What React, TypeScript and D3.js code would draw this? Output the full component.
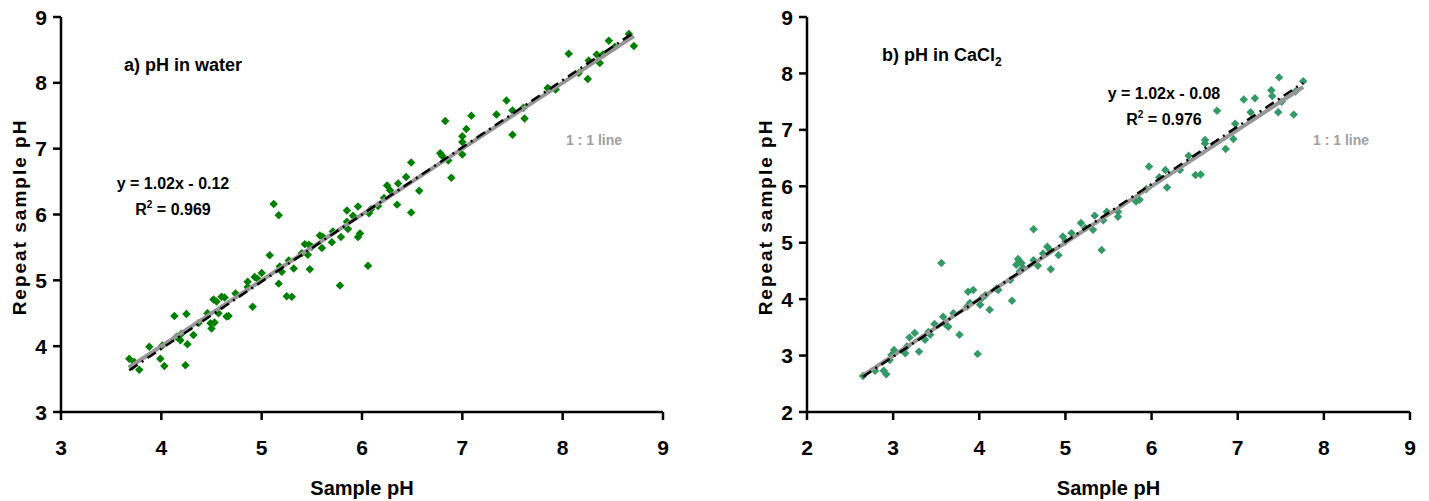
import React from "react";
import * as d3 from "d3";

// ---- Data: panel a) pH in water ----
const waterSample = [
  3.68, 3.73, 3.78, 3.71, 3.88, 4.01, 3.99, 4.03, 4.13, 4.25, 4.24, 4.26, 4.15, 4.19, 4.20, 4.32,
  4.37, 4.46, 4.49, 4.50, 4.53, 4.52, 4.55, 4.60, 4.63, 4.65, 4.57, 4.67, 4.74, 4.86, 4.86, 4.91,
  4.93, 4.96, 5.00, 5.08, 5.12, 5.17, 5.18, 5.20, 5.17, 5.25, 5.30, 5.27, 5.32, 5.40, 5.43, 5.47,
  5.46, 5.48, 5.50, 5.58, 5.61, 5.60, 5.70, 5.71, 5.78, 5.79, 5.85, 5.85, 5.86, 5.91, 5.96, 5.96,
  5.98, 6.06, 6.07, 6.09, 6.16, 6.22, 6.35, 6.25, 6.28, 6.36, 6.44, 6.49, 6.57, 6.49, 6.78, 6.80,
  6.83, 6.86, 6.89, 7.00, 7.00, 7.00, 7.04, 7.09, 7.34, 7.44, 7.50, 7.50, 7.61, 7.62, 7.85, 7.87,
  7.93, 8.06, 8.16, 8.25, 8.26, 8.34, 8.37, 8.40, 8.46, 8.52, 8.66, 8.71,
];
const waterRepeat = [
  3.81, 3.76, 3.64, 3.69, 3.99, 4.01, 3.81, 3.70, 4.46, 4.49, 3.71, 4.03, 4.14, 4.09, 4.19, 4.17,
  4.35, 4.50, 4.35, 4.27, 4.36, 4.71, 4.68, 4.75, 4.74, 4.45, 4.50, 4.46, 4.80, 4.98, 4.90, 4.60,
  5.05, 5.02, 5.11, 5.38, 6.16, 5.99, 5.21, 5.13, 4.95, 4.76, 4.75, 5.30, 5.18, 5.41, 5.55, 5.54,
  5.39, 5.17, 5.51, 5.68, 5.66, 5.49, 5.58, 5.74, 4.92, 5.66, 5.89, 6.06, 5.78, 5.98, 6.12, 5.66,
  5.71, 5.22, 6.02, 6.08, 6.13, 6.25, 6.15, 6.44, 6.37, 6.47, 6.57, 6.79, 6.36, 6.03, 6.93, 6.89,
  7.42, 6.82, 6.56, 7.19, 7.10, 6.91, 7.30, 7.50, 7.52, 7.73, 7.58, 7.21, 7.62, 7.46, 7.92, 7.90,
  7.90, 8.44, 8.15, 8.06, 8.34, 8.43, 8.30, 8.43, 8.64, 8.55, 8.74, 8.56,
];

// ---- Data: panel b) pH in CaCl2 ----
const cacl2Sample = [
  2.65, 2.79, 2.89, 2.92, 2.96, 2.98, 3.01, 3.14, 3.16, 3.19, 3.25, 3.30, 3.37, 3.41, 3.43, 3.48,
  3.56, 3.58, 3.60, 3.64, 3.70, 3.77, 3.86, 3.87, 3.89, 3.93, 3.98, 4.01, 4.03, 4.07, 4.12, 4.20,
  4.22, 4.36, 4.38, 4.43, 4.45, 4.49, 4.51, 4.47, 4.63, 4.63, 4.68, 4.74, 4.79, 4.82, 4.83, 4.92,
  4.97, 5.00, 5.07, 5.18, 5.23, 5.32, 5.34, 5.42, 5.44, 5.48, 5.61, 5.61, 5.82, 5.86, 5.94, 5.97,
  6.09, 6.16, 6.18, 6.33, 6.43, 6.51, 6.57, 6.62, 6.62, 6.76, 6.86, 6.95, 6.97, 7.07, 7.15, 7.20,
  7.39, 7.40, 7.47, 7.48, 7.51, 7.65, 7.67, 7.76,
];
const cacl2Repeat = [
  2.64, 2.73, 2.73, 2.67, 2.92, 3.01, 3.10, 3.04, 3.16, 3.32, 3.40, 3.07, 3.28, 3.42, 3.37, 3.56,
  4.64, 3.69, 3.57, 3.51, 3.75, 3.37, 3.87, 4.13, 3.93, 4.16, 3.03, 3.90, 4.02, 4.07, 3.81, 4.19,
  4.16, 4.34, 3.97, 4.61, 4.71, 4.64, 4.55, 4.49, 4.69, 5.24, 4.59, 4.81, 4.93, 4.87, 4.53, 4.78,
  5.11, 5.02, 5.17, 5.35, 5.26, 5.23, 5.48, 4.87, 5.40, 5.55, 5.55, 5.46, 5.73, 5.76, 5.95, 6.35,
  6.16, 6.29, 5.98, 6.29, 6.54, 6.20, 6.21, 6.82, 6.76, 7.34, 6.66, 6.84, 7.11, 7.54, 7.31, 7.56,
  7.70, 7.60, 7.31, 7.93, 7.50, 7.27, 7.68, 7.86,
];

// ---- Axis ticks and labels ----
const waterTicks = [3, 4, 5, 6, 7, 8, 9];
const cacl2Ticks = [2, 3, 4, 5, 6, 7, 8, 9];
const waterFit = { slope: 1.02, intercept: -0.12, eq: "y = 1.02x - 0.12", r2: "0.969" };
const cacl2Fit = { slope: 1.02, intercept: -0.08, eq: "y = 1.02x - 0.08", r2: "0.976" };
const xTitle = "Sample pH";
const yTitle = "Repeat sample pH";
const oneToOneLabel = "1 : 1 line";

const NARROW = "'Liberation Sans Narrow', 'Arial Narrow', 'Liberation Sans', Arial, sans-serif";
const WIDE = "'Liberation Sans', Arial, sans-serif";

type PanelProps = {
  xs: number[];
  ys: number[];
  ticks: number[];
  fit: { slope: number; intercept: number; eq: string; r2: string };
  xRange: [number, number];
  color: string;
  title: React.ReactNode;
  titlePos: [number, number];
  eqPos: [number, number];
  linePos: [number, number];
  yTitleX: number;
};

function Panel(p: PanelProps) {
  const dom: [number, number] = [p.ticks[0], p.ticks[p.ticks.length - 1]];
  const x = d3.scaleLinear().domain(dom).range(p.xRange);
  const y = d3.scaleLinear().domain(dom).range([412, 17]);
  const xMin = d3.min(p.xs) as number;
  const xMax = d3.max(p.xs) as number;
  const line = d3.line<[number, number]>().x((d) => x(d[0])).y((d) => y(d[1]));
  const oneToOne = line([[xMin, xMin], [xMax, xMax]]) || "";
  const reg = line([
    [xMin, p.fit.slope * xMin + p.fit.intercept],
    [xMax, p.fit.slope * xMax + p.fit.intercept],
  ]) || "";
  const diamond = d3.symbol().type(d3.symbolSquare).size(36)() || "";
  const x0 = p.xRange[0];
  const plotMidX = (p.xRange[0] + p.xRange[1]) / 2;
  return (
    <g>
      {/* axes */}
      <line x1={x0} x2={x0} y1={y(dom[1])} y2={412} stroke="#000" strokeWidth={2.5} />
      <line x1={x0} x2={p.xRange[1]} y1={412} y2={412} stroke="#000" strokeWidth={2.5} />
      {p.ticks.map((t) => (
        <g key={"y" + t}>
          <line x1={x0 - 8} x2={x0} y1={y(t)} y2={y(t)} stroke="#000" strokeWidth={2.5} />
          <text x={x0 - 14} y={y(t) + 7.5} textAnchor="end" fontFamily={NARROW} fontWeight="bold" fontSize={21}>
            {t}
          </text>
        </g>
      ))}
      {p.ticks.map((t) => (
        <g key={"x" + t}>
          <line x1={x(t)} x2={x(t)} y1={412} y2={420} stroke="#000" strokeWidth={2.5} />
          <text x={x(t)} y={455} textAnchor="middle" fontFamily={NARROW} fontWeight="bold" fontSize={21}>
            {t}
          </text>
        </g>
      ))}
      {/* points */}
      {p.xs.map((v, i) => (
        <path
          key={i}
          d={diamond}
          transform={`translate(${x(v)},${y(p.ys[i])}) rotate(45)`}
          fill={p.color}
        />
      ))}
      {/* 1:1 line and regression */}
      <path d={oneToOne} stroke="#969696" strokeWidth={4} fill="none" />
      <path d={reg} stroke="#000" strokeWidth={2.5} strokeDasharray="10,5,2,5" fill="none" />
      {/* annotations */}
      <text x={p.titlePos[0]} y={p.titlePos[1]} fontFamily={NARROW} fontWeight="bold" fontSize={18}>
        {p.title}
      </text>
      <text x={p.eqPos[0]} y={p.eqPos[1]} textAnchor="middle" fontFamily={NARROW} fontWeight="bold" fontSize={16}>
        {p.fit.eq}
      </text>
      <text x={p.eqPos[0]} y={p.eqPos[1] + 26} textAnchor="middle" fontFamily={NARROW} fontWeight="bold" fontSize={16}>
        R<tspan dy={-7} fontSize={10}>2</tspan>
        <tspan dy={7}>{" = " + p.fit.r2}</tspan>
      </text>
      <text x={p.linePos[0]} y={p.linePos[1]} fontFamily={NARROW} fontWeight="bold" fontSize={14} fill="#a0a0a0">
        {oneToOneLabel}
      </text>
      {/* axis titles */}
      <text x={plotMidX} y={495} textAnchor="middle" fontFamily={NARROW} fontWeight="bold" fontSize={20}>
        {xTitle}
      </text>
      <text
        transform={`translate(${p.yTitleX},217) rotate(-90)`}
        textAnchor="middle"
        fontFamily={WIDE}
        fontWeight="bold"
        fontSize={19}
        letterSpacing={2}
      >
        {yTitle}
      </text>
    </g>
  );
}

export default function App() {
  return (
    <div style={{ position: "absolute", left: 0, top: 0, background: "#fff" }}>
      <svg width={1429} height={501} style={{ display: "block" }}>
        <rect width={1429} height={501} fill="#fff" />
        <Panel
          xs={waterSample}
          ys={waterRepeat}
          ticks={waterTicks}
          fit={waterFit}
          xRange={[61, 663]}
          color="#008000"
          title="a) pH in water"
          titlePos={[124, 71]}
          eqPos={[173, 189]}
          linePos={[566, 145]}
          yTitleX={26}
        />
        <Panel
          xs={cacl2Sample}
          ys={cacl2Repeat}
          ticks={cacl2Ticks}
          fit={cacl2Fit}
          xRange={[807, 1410]}
          color="#339966"
          title={
            <>
              b) pH in CaCl<tspan dy={5} fontSize={12}>2</tspan>
            </>
          }
          titlePos={[882, 61]}
          eqPos={[1164, 99]}
          linePos={[1313, 145]}
          yTitleX={772}
        />
      </svg>
    </div>
  );
}
